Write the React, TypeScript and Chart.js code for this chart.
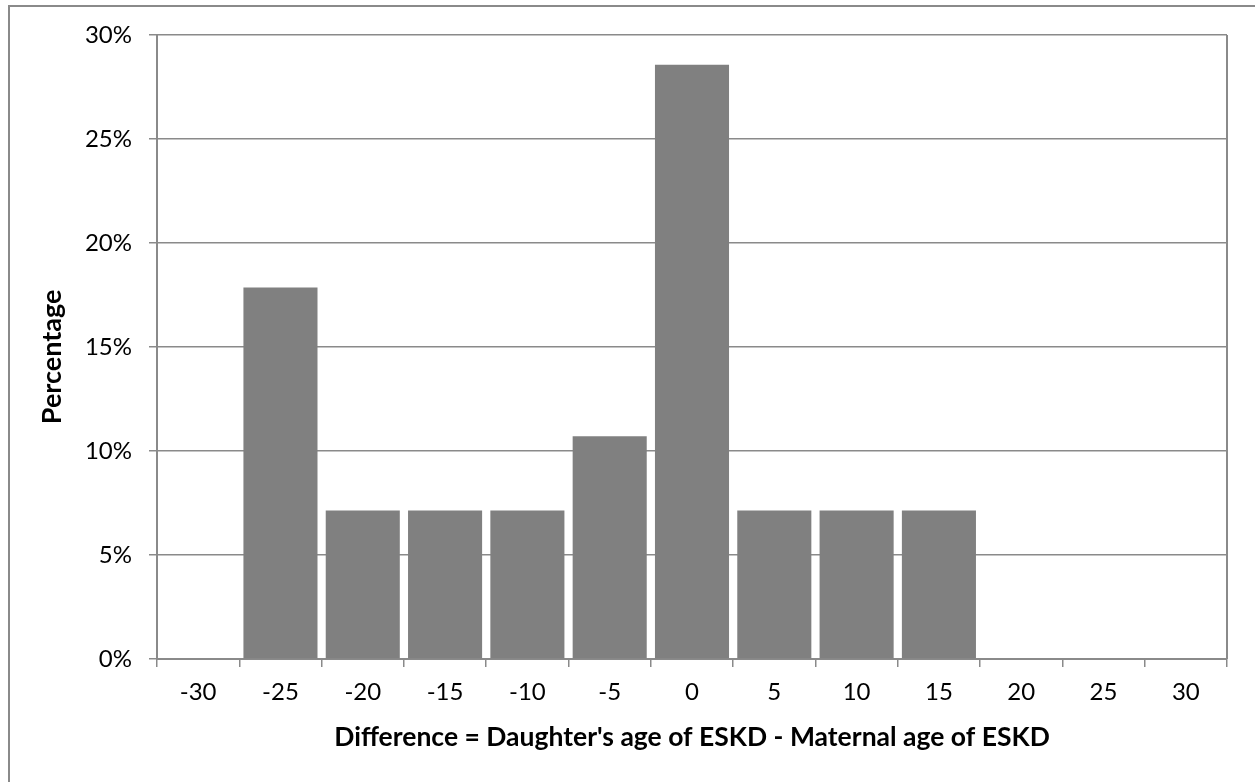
import React, { useEffect, useRef } from "react";
import { Chart, registerables } from "chart.js";

Chart.register(...registerables);

const categories: string[] = ["-30", "-25", "-20", "-15", "-10", "-5", "0", "5", "10", "15", "20", "25", "30"];
const percentages: number[] = [0, 17.86, 7.14, 7.14, 7.14, 10.71, 28.57, 7.14, 7.14, 7.14, 0, 0, 0];
const yTickValues: number[] = [0, 5, 10, 15, 20, 25, 30];
const xTitle = "Difference = Daughter's age of ESKD - Maternal age of ESKD";
const yTitle = "Percentage";

const FONT = "Lato, 'Open Sans', 'Liberation Sans', sans-serif";

const rightBorder = {
  id: "rightBorder",
  afterDraw(chart: any) {
    const { ctx, chartArea } = chart;
    ctx.save();
    ctx.strokeStyle = "#8a8a8a";
    ctx.lineWidth = 2;
    ctx.beginPath();
    ctx.moveTo(chartArea.right, chartArea.top);
    ctx.lineTo(chartArea.right, chartArea.bottom);
    ctx.stroke();
    ctx.restore();
  },
};

export default function App() {
  const ref = useRef<HTMLCanvasElement | null>(null);

  useEffect(() => {
    let chart: Chart | null = null;
    let cancelled = false;
    const make = () => {
      if (cancelled || !ref.current) return;
      chart = new Chart(ref.current, {
        type: "bar",
        data: {
          labels: categories,
          datasets: [
            {
              data: percentages,
              backgroundColor: "#808080",
              borderWidth: 0,
              barPercentage: 0.9,
              categoryPercentage: 1,
            },
          ],
        },
        options: {
          animation: false,
          responsive: false,
          maintainAspectRatio: false,
          devicePixelRatio: 1,
          layout: { padding: { top: 35, right: 28, left: 0, bottom: 0 } },
          plugins: { legend: { display: false }, tooltip: { enabled: false } },
          scales: {
            x: {
              offset: true,
              grid: {
                offset: true,
                drawOnChartArea: false,
                drawTicks: true,
                tickLength: 8,
                color: "#8a8a8a",
                lineWidth: 1.5,
              },
              border: { display: true, color: "#8a8a8a", width: 2 },
              ticks: {
                color: "#000",
                font: { family: FONT, size: 24 },
                padding: 11,
                maxRotation: 0,
                autoSkip: false,
              },
              title: {
                display: true,
                text: xTitle,
                color: "#000",
                font: { family: FONT, size: 26.5, weight: "bold" },
                padding: { top: 0, bottom: 29 },
              },
              afterFit(scale: any) {
                scale.height = 123;
              },
            },
            y: {
              min: 0,
              max: 30,
              afterBuildTicks(scale: any) {
                scale.ticks = yTickValues.map((v) => ({ value: v }));
              },
              grid: {
                color: "#8a8a8a",
                lineWidth: 1.5,
                tickLength: 8,
                drawTicks: true,
              },
              border: { display: true, color: "#8a8a8a", width: 2 },
              ticks: {
                color: "#000",
                font: { family: FONT, size: 24 },
                padding: 17,
                callback: (v: any) => `${v}%`,
              },
              title: {
                display: true,
                text: yTitle + "   ",
                color: "#000",
                font: { family: FONT, size: 27, weight: "bold" },
                padding: { top: 36, bottom: 0 },
              },
              afterFit(scale: any) {
                scale.width = 157;
              },
            },
          },
        },
        plugins: [rightBorder],
      });
    };
    const fonts: any = (document as any).fonts;
    if (fonts && fonts.load) {
      Promise.all([fonts.load("24px Lato"), fonts.load("bold 27px Lato")])
        .catch(() => null)
        .then(make);
    } else {
      make();
    }
    return () => {
      cancelled = true;
      if (chart) chart.destroy();
    };
  }, []);

  return (
    <div>
      <div
        style={{
          position: "absolute",
          left: 8,
          top: 5,
          width: 1300,
          height: 830,
          border: "2px solid #8a8a8a",
          boxSizing: "border-box",
        }}
      />
      <canvas
        ref={ref}
        width={1255}
        height={782}
        style={{ position: "absolute", left: 0, top: 0, width: 1255, height: 782 }}
      />
    </div>
  );
}
